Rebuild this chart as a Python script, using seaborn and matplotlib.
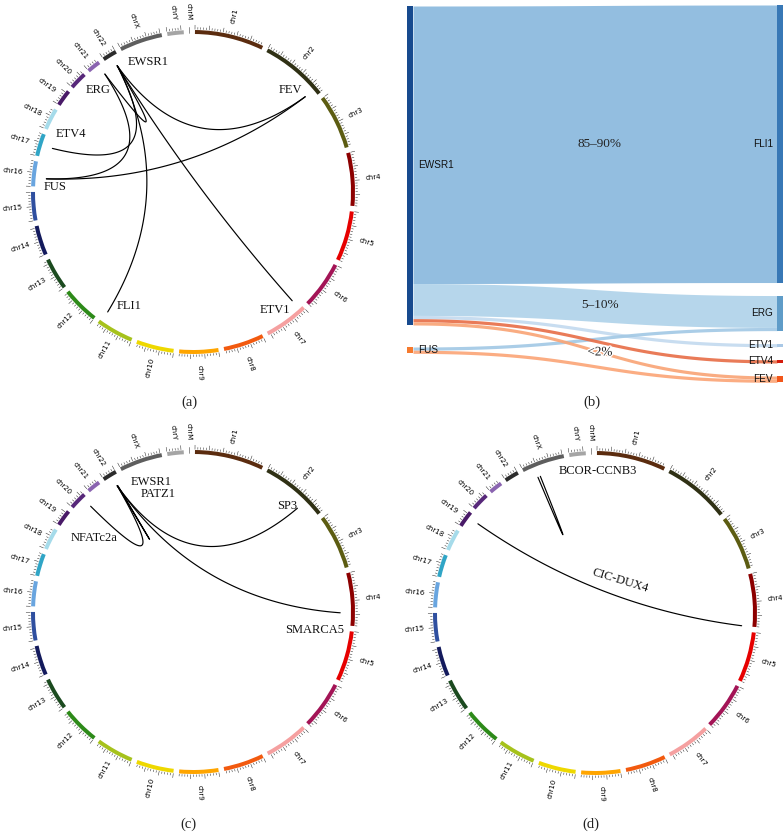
import numpy as np
import pandas as pd
import matplotlib
matplotlib.use("Agg")
import matplotlib.pyplot as plt
import seaborn as sns
from matplotlib.patches import Wedge, Rectangle
from matplotlib.collections import LineCollection
import matplotlib.patheffects as pe

sns.set_theme(style="white")
plt.rcParams['font.family'] = ['DejaVu Sans']

# ------------------------------------------------------------------ data
chrom_names = ["chr1", "chr2", "chr3", "chr4", "chr5", "chr6", "chr7", "chr8",
               "chr9", "chr10", "chr11", "chr12", "chr13", "chr14", "chr15",
               "chr16", "chr17", "chr18", "chr19", "chr20", "chr21", "chr22",
               "chrX", "chrY", "chrM"]
chrom_sizes_mb = [249.25, 243.2, 198.0, 191.15, 180.9, 171.1, 159.1, 146.4,
                  141.2, 135.5, 135.0, 133.85, 115.2, 107.3, 102.5, 90.35,
                  81.2, 78.1, 59.1, 63.0, 48.1, 51.3, 155.3, 59.4, 0.017]
chrom_colors = ["#5b2c0f", "#2f3014", "#5c5c12", "#8c0000", "#e60000", "#a31456",
                "#f5a0a0", "#f25a0f", "#ffa500", "#eed800", "#a6c21c", "#2d8a19",
                "#1b4a1f", "#131a5c", "#2f4f9f", "#69a5df", "#30a5c6", "#a6dbea",
                "#491a68", "#57287a", "#8a64b0", "#2b2b2b", "#5e5e5e", "#a5a5a5",
                "#222222"]

# gene positions (Mb)
gene_names = ["EWSR1", "FLI1", "ERG", "ETV1", "ETV4", "FEV", "FUS", "PATZ1",
              "NFATc2a", "SP3", "SMARCA5", "BCOR", "CCNB3", "CIC", "DUX4"]
gene_chroms = ["chr22", "chr11", "chr21", "chr7", "chr17", "chr2", "chr16", "chr22",
               "chr20", "chr2", "chr4", "chrX", "chrX", "chr19", "chr4"]
gene_pos_mb = [29.7, 128.6, 39.8, 13.9, 41.6, 219.8, 31.2, 31.7,
               50.0, 174.8, 144.4, 40.0, 50.0, 42.8, 190.9]

links_a = [("EWSR1", "FLI1"), ("EWSR1", "ERG"), ("EWSR1", "ETV1"),
           ("EWSR1", "ETV4"), ("EWSR1", "FEV"), ("FUS", "ERG"), ("FUS", "FEV")]
links_c = [("EWSR1", "PATZ1"), ("EWSR1", "NFATc2a"), ("EWSR1", "SP3"),
           ("EWSR1", "SMARCA5")]
links_d = [("BCOR", "CCNB3"), ("CIC", "DUX4")]

labels_a = ["EWSR1", "ERG", "FEV", "ETV4", "FUS", "FLI1", "ETV1"]
labels_c = ["EWSR1", "PATZ1", "NFATc2a", "SP3", "SMARCA5"]
labels_d = ["BCOR-CCNB3", "CIC-DUX4"]

# sankey
sk_sources = ["EWSR1", "EWSR1", "EWSR1", "EWSR1", "EWSR1", "FUS", "FUS"]
sk_targets = ["FLI1", "ERG", "ETV1", "ETV4", "FEV", "ERG", "FEV"]
sk_values = [87, 10, 1, 1, 1, 1, 1]
sk_left_nodes = ["EWSR1", "FUS"]
sk_right_nodes = ["FLI1", "ERG", "ETV1", "ETV4", "FEV"]
sk_flow_texts = ["85–90%", "5–10%", "<2%"]

# ------------------------------------------------------------------ styles
W, H = 784, 832
SERIF = ["Liberation Serif", "DejaVu Serif"]
SANS = ["Liberation Sans", "DejaVu Sans"]
node_colors = {"EWSR1": "#174a8e", "FUS": "#f57a2e", "FLI1": "#3878b6",
               "ERG": "#5f9cc8", "ETV1": "#a9c8e6", "ETV4": "#d41c0c",
               "FEV": "#f2561a"}
flow_colors = ["#8ab9de", "#b0d3ea", "#c4daef", "#e8704a", "#f9a577",
               "#a3c9e5", "#fba679"]

# label positions in circle units (layout)
label_xy = {
    "a": {"EWSR1": (-0.28, 0.81, 0), "ERG": (-0.59, 0.64, 0), "FEV": (0.61, 0.64, 0),
          "ETV4": (-0.76, 0.36, 0), "FUS": (-0.86, 0.03, 0), "FLI1": (-0.40, -0.71, 0),
          "ETV1": (0.51, -0.74, 0)},
    "c": {"EWSR1": (-0.26, 0.81, 0), "PATZ1": (-0.22, 0.74, 0),
          "NFATc2a": (-0.62, 0.46, 0), "SP3": (0.59, 0.66, 0),
          "SMARCA5": (0.76, -0.11, 0)},
    "d": {"BCOR-CCNB3": (0.02, 0.89, 0), "CIC-DUX4": (0.16, 0.20, -17)},
}

GAP = 2.0
START = 0.7
scale = (360 - GAP * len(chrom_names)) / sum(chrom_sizes_mb)
chrom_start = {}
_phi = START
for _n, _s in zip(chrom_names, chrom_sizes_mb):
    chrom_start[_n] = _phi
    _phi += _s * scale + GAP
gene_chrom = dict(zip(gene_names, gene_chroms))
gene_pos = dict(zip(gene_names, gene_pos_mb))


def phi_of(chrom, pos):
    return chrom_start[chrom] + pos * scale


def pol(phi, r):
    th = np.deg2rad(90 - phi)
    return r * np.cos(th), r * np.sin(th)


fig = plt.figure(figsize=(W / 100, H / 100), dpi=100)


def px_axes(x0, y0, x1, y1):
    return fig.add_axes([x0 / W, 1 - y1 / H, (x1 - x0) / W, (y1 - y0) / H])


def draw_circos(box, center, R, links, labels, key):
    x0, y0, x1, y1 = box
    cx, cy = center
    ax = px_axes(x0, y0, x1, y1)
    ax.set_xlim((x0 - cx) / R, (x1 - cx) / R)
    ax.set_ylim((cy - y1) / R, (cy - y0) / R)
    ax.axis("off")
    ticks = []
    for n, s, c in zip(chrom_names, chrom_sizes_mb, chrom_colors):
        p0 = chrom_start[n]
        p1 = p0 + s * scale
        if n == "chrM":
            a = pol(p0, 0.99); b = pol(p0, 1.03)
            ticks.append([a, b])
        else:
            ax.add_patch(Wedge((0, 0), 1.0125, 90 - p1, 90 - p0, width=0.025,
                               facecolor=c, edgecolor="none"))
            for mb in np.arange(0, s, 10):
                ln = 0.028 if mb % 50 == 0 else 0.014
                ph = phi_of(n, mb)
                ticks.append([pol(ph, 1.016), pol(ph, 1.016 + ln)])
        mid = (p0 + p1) / 2
        lx, ly = pol(mid, 1.13)
        th = (90 - mid + 180) % 360 - 180
        rot = th if -90 <= th <= 90 else th - 180
        ax.text(lx, ly, n, fontsize=5, rotation=rot, ha="center", va="center",
                rotation_mode="anchor", color="black")
    ax.add_collection(LineCollection(ticks, colors="#222222", linewidths=0.35))
    rows = []
    for i, (g1, g2) in enumerate(links):
        p1 = np.array(pol(phi_of(gene_chrom[g1], gene_pos[g1]), 0.92))
        p2 = np.array(pol(phi_of(gene_chrom[g2], gene_pos[g2]), 0.92))
        ctrl = 0.15 * (p1 + p2) / 2
        t = np.linspace(0, 1, 120)[:, None]
        pts = (1 - t) ** 2 * p1 + 2 * (1 - t) * t * ctrl + t ** 2 * p2
        for x, y in pts:
            rows.append({"x": x, "y": y, "link": i})
    df = pd.DataFrame(rows)
    sns.lineplot(data=df, x="x", y="y", units="link", estimator=None, sort=False,
                 color="black", lw=0.85, ax=ax, legend=False)
    ax.set_xlim((x0 - cx) / R, (x1 - cx) / R)
    ax.set_ylim((cy - y1) / R, (cy - y0) / R)
    ax.axis("off")
    for lab in labels:
        lx, ly, rot = label_xy[key][lab]
        ax.text(lx, ly, lab, family=SERIF, fontsize=9, ha="center", va="center",
                rotation=rot, color="#111111")
    return ax


draw_circos((0, 0, 390, 400), (193, 192), 160, links_a, labels_a, "a")
draw_circos((0, 415, 390, 832), (193, 612), 160, links_c, labels_c, "c")
draw_circos((392, 415, 784, 832), (595, 613), 160, links_d, labels_d, "d")

# ------------------------------------------------------------------ sankey
sx0, sx1 = 395, 784
axs = px_axes(sx0, 0, sx1, 395)
axs.set_xlim(sx0, sx1)
axs.set_ylim(395, 0)
axs.axis("off")
k = 3.19
NODE_W = 6
LX, RX = 407, 777
node_span = {}
yy = 6
for n in sk_left_nodes:
    v = sum(val for s, val in zip(sk_sources, sk_values) if s == n)
    node_span[n] = [yy, yy + v * k]
    yy += v * k + 22
yy = 5
for n in sk_right_nodes:
    v = sum(val for t, val in zip(sk_targets, sk_values) if t == n)
    node_span[n] = [yy, yy + v * k]
    yy += v * k + 13
src_cursor = {n: node_span[n][0] for n in sk_left_nodes}
tgt_cursor = {n: node_span[n][0] for n in sk_right_nodes}
order = sorted(range(len(sk_values)),
               key=lambda i: (sk_left_nodes.index(sk_sources[i]),
                              sk_right_nodes.index(sk_targets[i])))
flow_geom = {}
for i in order:
    s, t, v = sk_sources[i], sk_targets[i], sk_values[i]
    ys0 = src_cursor[s]; src_cursor[s] += v * k
    flow_geom[i] = [ys0, None]
# target ordering by source order
for t in sk_right_nodes:
    ids = [i for i in range(len(sk_values)) if sk_targets[i] == t]
    ids.sort(key=lambda i: sk_left_nodes.index(sk_sources[i]))
    for i in ids:
        flow_geom[i][1] = tgt_cursor[t]; tgt_cursor[t] += sk_values[i] * k

xa, xb = LX + NODE_W, RX
xm = (xa + xb) / 2
tt = np.linspace(0, 1, 200)
xs = (1 - tt) ** 3 * xa + 3 * (1 - tt) ** 2 * tt * xm + 3 * (1 - tt) * tt ** 2 * xm + tt ** 3 * xb
wy = (1 - tt) ** 3 + 3 * (1 - tt) ** 2 * tt
draw_order = [0, 1, 2, 5, 3, 4, 6]
for i in draw_order:
    ys0, yt0 = flow_geom[i]
    h = sk_values[i] * k
    top = wy * ys0 + (1 - wy) * yt0
    axs.fill_between(xs, top, top + h, color=flow_colors[i], lw=0, alpha=0.92)

for n in sk_left_nodes:
    a, b = node_span[n]
    axs.add_patch(Rectangle((LX, a), NODE_W, b - a, facecolor=node_colors[n], edgecolor="none"))
    axs.text(LX + NODE_W + 5, (a + b) / 2, n, family=SANS, fontsize=7.2,
             ha="left", va="center", color="#111111")
for n in sk_right_nodes:
    a, b = node_span[n]
    axs.add_patch(Rectangle((RX, a), NODE_W, b - a, facecolor=node_colors[n], edgecolor="none"))
    axs.text(RX - 4, (a + b) / 2, n, family=SANS, fontsize=7.2,
             ha="right", va="center", color="#111111")

halo = [pe.withStroke(linewidth=2, foreground="white")]
for txt, fi in zip(sk_flow_texts, [0, 1, 4]):
    ys0, yt0 = flow_geom[fi]
    h = sk_values[fi] * k
    ym = (ys0 + yt0) / 2 + h / 2
    if fi == 4:
        ym += 2
    axs.text(600, ym, txt, family=SERIF, fontsize=9.5, ha="center", va="center",
             color="#222222", path_effects=halo if fi == 4 else None)

# ------------------------------------------------------------------ panel labels
for lab, (px, py) in {"(a)": (189, 402), "(b)": (592, 402),
                      "(c)": (188, 824), "(d)": (591, 824)}.items():
    fig.text(px / W, 1 - py / H, lab, family=SERIF, fontsize=10.5,
             ha="center", va="center", color="#222222")

fig.savefig("out.png", dpi=100)
